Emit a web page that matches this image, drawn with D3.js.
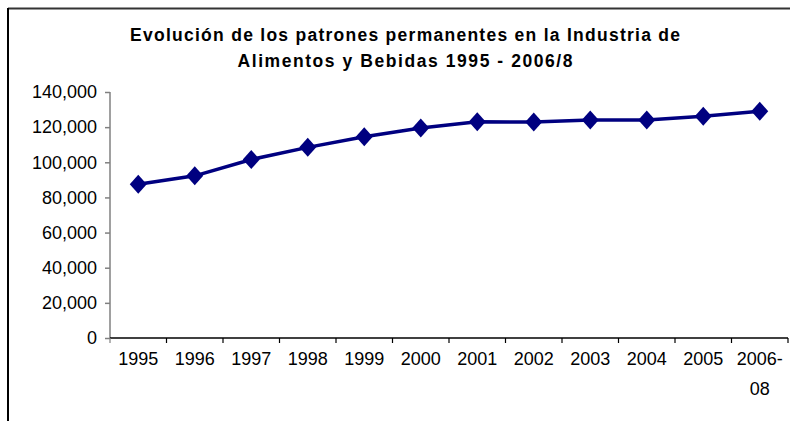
<!DOCTYPE html>
<html>
<head>
<meta charset="utf-8">
<script src="https://cdn.jsdelivr.net/npm/d3@7"></script>
<style>
  html, body { margin: 0; padding: 0; background: #fff; }
  svg { display: block; }
  text { font-family: "Liberation Sans", Arial, sans-serif; }
</style>
</head>
<body>
<svg id="chart" width="790" height="421"></svg>
<script>
const titleLines = ["Evolución de los patrones permanentes en la Industria de", "Alimentos y Bebidas 1995 - 2006/8"];
const categories = ["1995", "1996", "1997", "1998", "1999", "2000", "2001", "2002", "2003", "2004", "2005", "2006-08"];
const values = [87500, 92300, 101600, 108500, 114500, 119500, 123000, 122900, 124000, 124000, 126200, 129000];
const yTicks = [0, 20000, 40000, 60000, 80000, 100000, 120000, 140000];

const svg = d3.select("#chart");
const W = 790, H = 421;
const plot = { left: 110, right: 788, top: 92, bottom: 338 };

// frame
svg.append("line").attr("x1", 8).attr("x2", W).attr("y1", 8.5).attr("y2", 8.5)
  .attr("stroke", "#333").attr("stroke-width", 2);
svg.append("line").attr("x1", 8).attr("x2", 8).attr("y1", 8).attr("y2", H)
  .attr("stroke", "#000").attr("stroke-width", 2);

// title
const titleWidths = [550, 335];
titleLines.forEach((t, i) => {
  svg.append("text").attr("text-anchor", "middle")
    .attr("font-weight", "bold").attr("font-size", 17.5).attr("fill", "#000")
    .attr("x", 405).attr("y", 41 + i * 26)
    .attr("textLength", titleWidths[i]).attr("lengthAdjust", "spacing")
    .text(t);
});

const x = d3.scaleBand().domain(categories).range([plot.left, plot.right]).padding(0);
const y = d3.scaleLinear().domain([0, 140000]).range([plot.bottom, plot.top]);
const fmt = d3.format(",");

// y axis
const yAxis = svg.append("g").attr("transform", `translate(${plot.left},0)`)
  .call(d3.axisLeft(y).tickValues(yTicks).tickFormat(fmt).tickSize(5).tickPadding(8));
yAxis.select(".domain").attr("stroke", "#808080").attr("stroke-width", 1.5)
  .attr("d", `M0,${plot.top}V${plot.bottom}`);
yAxis.selectAll(".tick line").attr("stroke", "#808080").attr("stroke-width", 1.5);
yAxis.selectAll(".tick text").attr("font-size", 18).attr("fill", "#000")
  .attr("font-family", "'Liberation Sans', Arial, sans-serif");

// x axis
const xAxis = svg.append("g").attr("transform", `translate(0,${plot.bottom})`)
  .call(d3.axisBottom(x).tickSize(0).tickPadding(14));
xAxis.select(".domain").attr("stroke", "#000").attr("stroke-width", 1.5)
  .attr("d", `M${plot.left},0H${plot.right}`);
xAxis.selectAll(".tick text").attr("font-size", 18).attr("fill", "#000")
  .attr("font-family", "'Liberation Sans', Arial, sans-serif")
  .each(function(d) {
    const parts = d.includes("-") ? [d.slice(0, d.indexOf("-") + 1), d.slice(d.indexOf("-") + 1)] : [d];
    const t = d3.select(this);
    t.text(null);
    parts.forEach((p, i) => {
      t.append("tspan").attr("x", 0).attr("dy", i === 0 ? "0.71em" : "1.68em").text(p);
    });
  });
// boundary ticks
const bounds = categories.map(c => x(c)).concat([x(categories[categories.length - 1]) + x.bandwidth()]);
xAxis.selectAll(".btick").data(bounds).enter().append("line")
  .attr("x1", d => d).attr("x2", d => d).attr("y1", 0).attr("y2", 5)
  .attr("stroke", d => d === plot.left ? "#808080" : "#000").attr("stroke-width", 1.2);

// line
const cx = d => x(d) + x.bandwidth() / 2;
const line = d3.line().x((d, i) => cx(categories[i])).y(d => y(d));
svg.append("path").datum(values).attr("d", line)
  .attr("fill", "none").attr("stroke", "#000080").attr("stroke-width", 3.5);

// diamond markers
svg.selectAll(".pt").data(values).enter().append("path")
  .attr("transform", (d, i) => `translate(${cx(categories[i])},${y(d)})`)
  .attr("d", "M0,-9.5L8.5,0L0,9.5L-8.5,0Z")
  .attr("fill", "#000080");
</script>
</body>
</html>
